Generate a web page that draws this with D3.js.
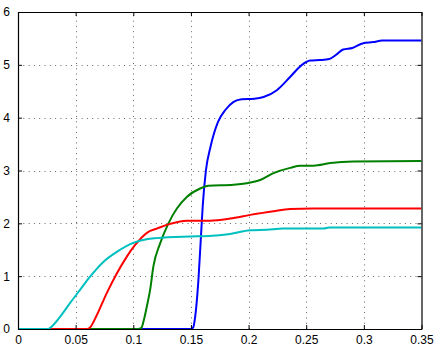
<!DOCTYPE html>
<html>
<head>
<meta charset="utf-8">
<script src="https://cdn.jsdelivr.net/npm/d3@7"></script>
<style>
  html, body { margin: 0; padding: 0; background: #fff; }
  svg { display: block; font-family: "Liberation Sans", Arial, Helvetica, sans-serif; }
</style>
</head>
<body>
<svg id="chart" width="435" height="346"></svg>
<script>
// Response curves (time in s vs. value)
const blueX  = [0, 0.150, 0.152, 0.1535, 0.1565, 0.159, 0.1603, 0.163, 0.167, 0.1735, 0.180, 0.187, 0.194, 0.205, 0.213, 0.2245, 0.236, 0.2463, 0.2535, 0.262, 0.270, 0.276, 0.282, 0.290, 0.2995, 0.308, 0.316, 0.35];
const blueY  = [0, 0, 0.03, 0.2, 0.93, 1.87, 2.35, 3.0, 3.45, 3.92, 4.15, 4.30, 4.35, 4.36, 4.39, 4.52, 4.77, 5.0, 5.08, 5.09, 5.11, 5.19, 5.29, 5.32, 5.41, 5.43, 5.46, 5.46];

const greenX = [0, 0.104, 0.107, 0.1095, 0.1117, 0.1146, 0.1174, 0.1233, 0.1305, 0.1378, 0.1464, 0.158, 0.1652, 0.187, 0.1985, 0.210, 0.2216, 0.236, 0.245, 0.2563, 0.2708, 0.291, 0.35];
const greenY = [0, 0, 0.02, 0.2, 0.42, 0.74, 1.18, 1.62, 2.0, 2.28, 2.5, 2.66, 2.71, 2.73, 2.76, 2.82, 2.95, 3.05, 3.09, 3.09, 3.14, 3.17, 3.18];

const redX   = [0, 0.060, 0.0625, 0.0683, 0.077, 0.0857, 0.0944, 0.1016, 0.1131, 0.1204, 0.132, 0.1464, 0.1667, 0.184, 0.2014, 0.2216, 0.236, 0.255, 0.35];
const redY   = [0, 0, 0.03, 0.26, 0.68, 1.05, 1.37, 1.59, 1.84, 1.9, 1.99, 2.05, 2.05, 2.09, 2.16, 2.23, 2.27, 2.28, 2.28];

const cyanX  = [0, 0.026, 0.0278, 0.0365, 0.0451, 0.0538, 0.0625, 0.074, 0.0857, 0.1, 0.1117, 0.1204, 0.1493, 0.1652, 0.184, 0.2014, 0.216, 0.23, 0.265, 0.27, 0.35];
const cyanY  = [0, 0, 0.02, 0.23, 0.49, 0.74, 0.99, 1.27, 1.46, 1.63, 1.70, 1.72, 1.75, 1.76, 1.80, 1.87, 1.88, 1.90, 1.90, 1.92, 1.92];

const xTicks = [0, 0.05, 0.1, 0.15, 0.2, 0.25, 0.3, 0.35];
const xTickLabels = ["0", "0.05", "0.1", "0.15", "0.2", "0.25", "0.3", "0.35"];
const yTicks = [0, 1, 2, 3, 4, 5, 6];
const yTickLabels = ["0", "1", "2", "3", "4", "5", "6"];

const series = [
  { x: blueX,  y: blueY,  color: "#0000ff" },
  { x: greenX, y: greenY, color: "#008000" },
  { x: redX,   y: redY,   color: "#ff0000" },
  { x: cyanX,  y: cyanY,  color: "#00bfbf" }
];

const plotLeft = 18, plotRight = 421.5, plotTop = 12, plotBottom = 329;
const svg = d3.select("#chart");
const x = d3.scaleLinear().domain([0, 0.35]).range([plotLeft, plotRight]);
const y = d3.scaleLinear().domain([0, 6]).range([plotBottom, plotTop]);

// dotted grid
const grid = svg.append("g").attr("stroke", "#666").attr("stroke-width", 1)
  .attr("stroke-dasharray", "1,4.3");
grid.selectAll(".gx").data(xTicks.slice(1, -1)).enter().append("line")
  .attr("x1", d => Math.round(x(d)) + 0.5).attr("x2", d => Math.round(x(d)) + 0.5)
  .attr("y1", plotBottom).attr("y2", plotTop);
grid.selectAll(".gy").data(yTicks.slice(1, -1)).enter().append("line")
  .attr("y1", d => Math.round(y(d)) + 0.5).attr("y2", d => Math.round(y(d)) + 0.5)
  .attr("x1", plotLeft).attr("x2", plotRight);

// curves
svg.append("clipPath").attr("id", "plotclip").append("rect")
  .attr("x", plotLeft).attr("y", plotTop - 2)
  .attr("width", plotRight - plotLeft).attr("height", plotBottom - plotTop + 2);
const line = d3.line().x(d => x(d[0])).y(d => y(d[1])).curve(d3.curveMonotoneX);
svg.append("g").attr("clip-path", "url(#plotclip)")
  .selectAll("path").data(series).enter().append("path")
  .attr("d", s => line(s.x.map((v, i) => [v, s.y[i]])))
  .attr("fill", "none").attr("stroke", s => s.color)
  .attr("stroke-width", 2).attr("stroke-linejoin", "round");

// axes box with inward ticks on all sides
const axisBottom = d3.axisBottom(x).tickValues(xTicks).tickFormat((d, i) => xTickLabels[i])
  .tickSizeInner(-4).tickSizeOuter(0).tickPadding(6);
const axisTop = d3.axisTop(x).tickValues(xTicks).tickFormat("").tickSizeInner(-4).tickSizeOuter(0);
const axisLeft = d3.axisLeft(y).tickValues(yTicks).tickFormat((d, i) => yTickLabels[i])
  .tickSizeInner(-4).tickSizeOuter(0).tickPadding(8);
const axisRight = d3.axisRight(y).tickValues(yTicks).tickFormat("").tickSizeInner(-4).tickSizeOuter(0);

function styleAxis(g) {
  g.selectAll("path.domain").attr("stroke", "#000").attr("stroke-width", 1.2);
  g.selectAll(".tick line").attr("stroke", "#000").attr("stroke-width", 1);
  g.selectAll("text").attr("fill", "#000").style("font-size", "12px")
    .style("font-family", "'Liberation Sans', Arial, Helvetica, sans-serif");
}
svg.append("g").attr("transform", `translate(0,${plotBottom})`).call(axisBottom).call(styleAxis);
svg.append("g").attr("transform", `translate(0,${plotTop})`).call(axisTop).call(styleAxis);
svg.append("g").attr("transform", `translate(${plotLeft},0)`).call(axisLeft).call(styleAxis);
svg.append("g").attr("transform", `translate(${plotRight},0)`).call(axisRight).call(styleAxis);
</script>
</body>
</html>
